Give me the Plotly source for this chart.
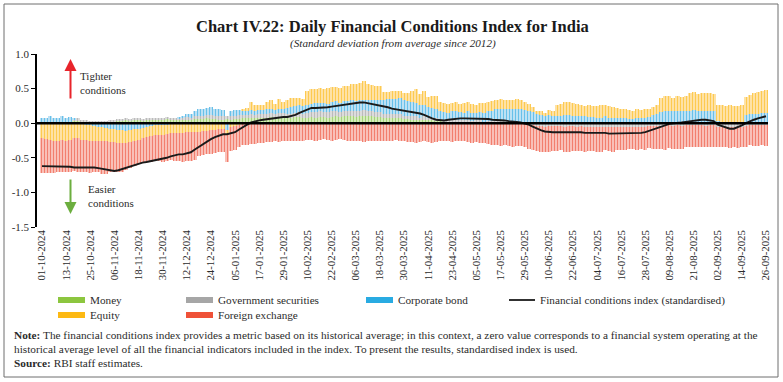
import pandas as pd
import plotly.graph_objects as go

# ---------------- data (2-day steps, 01-10-2024 .. 26-09-2025) ----------------
dates = list(pd.date_range("2024-10-01", periods=181, freq="2D").strftime("%d-%m-%Y"))

tick_labels = ["01-10-2024", "13-10-2024", "25-10-2024", "06-11-2024", "18-11-2024",
               "30-11-2024", "12-12-2024", "24-12-2024", "05-01-2025", "17-01-2025",
               "29-01-2025", "10-02-2025", "22-02-2025", "06-03-2025", "18-03-2025",
               "30-03-2025", "11-04-2025", "23-04-2025", "05-05-2025", "17-05-2025",
               "29-05-2025", "10-06-2025", "22-06-2025", "04-07-2025", "16-07-2025",
               "28-07-2025", "09-08-2025", "21-08-2025", "02-09-2025", "14-09-2025",
               "26-09-2025"]

money = [
    0.01, 0.00, 0.01, 0.00, 0.01, 0.01, 0.00, 0.01,
    0.03, 0.03, 0.02,
    0.02, 0.01, 0.02, 0.02, 0.01, 0.02,
    0.03, 0.03, 0.04, 0.04, 0.05, 0.04, 0.05, 0.05, 0.04,
    0.05, 0.05, 0.06, 0.05, 0.05, 0.06, 0.05, 0.04,
    0.04, 0.04, 0.05, 0.05, 0.06,
    0.06, 0.06, 0.07, 0.06, 0.06, 0.05,
    0.05, 0.06, 0.05, 0.06, 0.06,
    0.07, 0.07, 0.08, 0.07, 0.08,
    0.08, 0.08, 0.09, 0.08, 0.08, 0.09,
    0.08, 0.08, 0.09, 0.09, 0.08,
    0.08, 0.09, 0.08, 0.09, 0.09, 0.08, 0.09, 0.10, 0.09, 0.10,
    0.10, 0.10, 0.09, 0.10, 0.11, 0.10, 0.10, 0.09, 0.09,
    0.08, 0.08, 0.07, 0.08, 0.07, 0.06, 0.06,
    0.05, 0.05, 0.04, 0.05, 0.04, 0.04, 0.03,
    0.03, 0.02, 0.02, 0.03, 0.02, 0.02, 0.02, 0.03, 0.02, 0.02, 0.02, 0.01, 0.02, 0.02,
    0.02, 0.02, 0.02, 0.01, 0.02, 0.02, 0.01, 0.01, 0.01, 0.01,
    0.01, 0.01, 0.00, 0.01, 0.01,
    0.01, 0.01, 0.01, 0.02, 0.01, 0.01, 0.01, 0.01,
    0.01, 0.01, 0.01, 0.01, 0.02, 0.01, 0.01, 0.01, 0.01,
    0.01, 0.01, 0.01, 0.01, 0.01, 0.01, 0.01, 0.02, 0.02,
    0.02, 0.02, 0.02, 0.02, 0.02, 0.02, 0.02,
    0.02, 0.02, 0.02, 0.02, 0.02, 0.02, 0.02,
    0.01, 0.01, 0.01, 0.01, 0.01, 0.01, 0.01,
    0.02, 0.02, 0.02, 0.02, 0.02, 0.02,
]

gsec = [
    0.00, 0.00, 0.01, 0.00, 0.00, 0.01, 0.00, 0.00,
    0.03, 0.04, 0.03,
    0.02, 0.02, 0.01, 0.01, 0.02, 0.01,
    0.01, 0.01, 0.02, 0.01, 0.02, 0.02, 0.02, 0.03, 0.02,
    0.03, 0.03, 0.02, 0.03, 0.03, 0.03, 0.02, 0.03,
    0.03, 0.03, 0.04, 0.03, 0.04,
    0.05, 0.05, 0.05, 0.06, 0.05, 0.05,
    0.05, 0.05, 0.05, 0.05, 0.06,
    0.05, 0.05, 0.06, 0.05, 0.06,
    0.06, 0.06, 0.06, 0.06, 0.07, 0.06,
    0.06, 0.06, 0.06, 0.07, 0.06,
    0.07, 0.07, 0.08, 0.08, 0.07, 0.08, 0.08, 0.08, 0.07, 0.08,
    0.08, 0.08, 0.08, 0.07, 0.08, 0.08, 0.07, 0.07, 0.07,
    0.06, 0.06, 0.06, 0.05, 0.06, 0.05, 0.05,
    0.05, 0.05, 0.04, 0.05, 0.04, 0.04, 0.04,
    0.03, 0.02, 0.02, 0.02, 0.03, 0.02, 0.02, 0.02, 0.01, 0.02, 0.02, 0.01, 0.01, 0.01,
    0.01, 0.01, 0.01, 0.00, 0.01, 0.00, 0.00, -0.01, -0.02, -0.03,
    -0.04, -0.04, -0.05, -0.04, -0.04,
    -0.04, -0.04, -0.05, -0.04, -0.04, -0.05, -0.04, -0.05,
    -0.05, -0.05, -0.05, -0.06, -0.05, -0.05, -0.06, -0.05, -0.05,
    -0.05, -0.05, -0.05, -0.06, -0.05, -0.05, -0.04, -0.04, -0.04,
    -0.04, -0.04, -0.03, -0.04, -0.03, -0.04, -0.03,
    -0.03, -0.03, -0.03, -0.03, -0.04, -0.03, -0.03,
    -0.05, -0.05, -0.06, -0.06, -0.05, -0.06, -0.05,
    -0.04, -0.03, -0.03, -0.03, -0.03, -0.03,
]

corporate_bond = [
    0.07, 0.07, 0.08, 0.07, 0.07, 0.08, 0.07, 0.08,
    0.02, 0.00, -0.01,
    -0.02, -0.03, -0.04, -0.05, -0.06, -0.07,
    -0.08, -0.09, -0.10, -0.10, -0.11, -0.10, -0.09, -0.08, -0.07,
    -0.05, -0.04, -0.03, -0.03, -0.02, -0.02, -0.01, 0.00,
    0.02, 0.03, 0.04, 0.06, 0.08,
    0.09, 0.10, 0.10, 0.11, 0.10, 0.10,
    0.09, -0.10, 0.08, 0.08, 0.07,
    0.06, 0.05, 0.05, 0.06, 0.05,
    0.05, 0.06, 0.06, 0.05, 0.06, 0.06,
    0.08, 0.09, 0.10, 0.10, 0.11,
    0.12, 0.12, 0.13, 0.12, 0.13, 0.12, 0.13, 0.14, 0.13, 0.14,
    0.14, 0.15, 0.15, 0.16, 0.15, 0.15, 0.16, 0.17, 0.18,
    0.20, 0.21, 0.22, 0.22, 0.23, 0.22, 0.21,
    0.20, 0.19, 0.18, 0.16, 0.15, 0.14, 0.13,
    0.12, 0.12, 0.11, 0.12, 0.12, 0.12, 0.11, 0.12, 0.12, 0.11, 0.12, 0.13, 0.14, 0.15,
    0.17, 0.18, 0.18, 0.19, 0.18, 0.18, 0.19, 0.18, 0.17, 0.15,
    0.12, 0.11, 0.10, 0.11, 0.10,
    0.10, 0.10, 0.11, 0.10, 0.10, 0.10, 0.09, 0.09,
    0.08, 0.08, 0.07, 0.07, 0.08, 0.07, 0.07, 0.06, 0.06,
    0.06, 0.05, 0.05, 0.06, 0.06, 0.07, 0.08, 0.10, 0.12,
    0.14, 0.15, 0.16, 0.16, 0.15, 0.16, 0.16,
    0.16, 0.17, 0.16, 0.16, 0.15, 0.16, 0.16,
    0.02, 0.01, 0.00, 0.00, 0.00, 0.01, 0.00,
    0.10, 0.11, 0.12, 0.12, 0.13, 0.13,
]

equity = [
    -0.22, -0.23, -0.24, -0.25, -0.25, -0.24, -0.25, -0.24,
    -0.22, -0.22, -0.23,
    -0.22, -0.22, -0.21, -0.20, -0.20, -0.19,
    -0.19, -0.18, -0.18, -0.18, -0.17, -0.17, -0.16, -0.16, -0.15,
    -0.15, -0.15, -0.14, -0.14, -0.15, -0.14, -0.13, -0.14,
    -0.14, -0.14, -0.13, -0.13, -0.13,
    -0.12, -0.11, -0.11, -0.10, -0.10, -0.09,
    -0.08, -0.06, -0.05, -0.04, -0.02,
    0.03, 0.05, 0.12, 0.08, 0.07,
    0.08, 0.10, 0.12, 0.09, 0.14, 0.10,
    0.12, 0.13, 0.11, 0.10, 0.10,
    0.20, 0.22, 0.21, 0.22, 0.20, 0.23, 0.22, 0.21, 0.22, 0.22,
    0.22, 0.23, 0.24, 0.25, 0.27, 0.24, 0.22, 0.21, 0.20,
    0.11, 0.10, 0.12, 0.11, 0.10, 0.11, 0.12,
    0.17, 0.20, 0.16, 0.21, 0.15, 0.18, 0.19,
    0.12, 0.13, 0.13, 0.12, 0.13, 0.12, 0.14, 0.13, 0.13, 0.12, 0.13, 0.14, 0.13, 0.14,
    0.13, 0.14, 0.12, 0.14, 0.13, 0.15, 0.13, 0.12, 0.10, 0.08,
    0.05, 0.06, 0.05, 0.07, 0.06,
    0.16, 0.17, 0.18, 0.19, 0.18, 0.17, 0.16, 0.15,
    0.17, 0.16, 0.17, 0.18, 0.16, 0.17, 0.16, 0.15, 0.14,
    0.14, 0.13, 0.12, 0.13, 0.12, 0.13, 0.12, 0.12, 0.13,
    0.20, 0.22, 0.21, 0.19, 0.22, 0.20, 0.21,
    0.25, 0.26, 0.24, 0.25, 0.26, 0.25, 0.24,
    0.24, 0.25, 0.24, 0.25, 0.24, 0.23, 0.25,
    0.26, 0.28, 0.30, 0.31, 0.32, 0.33,
]

foreign_exchange = [
    -0.50, -0.49, -0.48, -0.47, -0.46, -0.47, -0.46, -0.46,
    -0.47, -0.48, -0.47,
    -0.46, -0.47, -0.46, -0.46, -0.47, -0.47,
    -0.44, -0.44, -0.43, -0.42, -0.40, -0.38, -0.37, -0.35, -0.34,
    -0.36, -0.37, -0.38, -0.38, -0.39, -0.38, -0.39, -0.40,
    -0.41, -0.42, -0.42, -0.41, -0.40,
    -0.36, -0.35, -0.34, -0.34, -0.33, -0.33,
    -0.34, -0.40, -0.35, -0.34, -0.33,
    -0.32, -0.31, -0.30, -0.30, -0.29,
    -0.28, -0.27, -0.27, -0.26, -0.27, -0.26,
    -0.26, -0.25, -0.25, -0.26, -0.25,
    -0.24, -0.24, -0.25, -0.24, -0.23, -0.24, -0.25, -0.24, -0.23, -0.24,
    -0.25, -0.26, -0.25, -0.26, -0.27, -0.26, -0.25, -0.26, -0.25,
    -0.25, -0.26, -0.25, -0.24, -0.25, -0.26, -0.27,
    -0.27, -0.28, -0.27, -0.26, -0.27, -0.28, -0.27,
    -0.26, -0.25, -0.26, -0.27, -0.26, -0.25, -0.26, -0.27, -0.28, -0.27, -0.28, -0.29, -0.30, -0.31,
    -0.32, -0.33, -0.32, -0.33, -0.34, -0.33, -0.33, -0.34, -0.35, -0.36,
    -0.36, -0.37, -0.36, -0.37, -0.36,
    -0.36, -0.35, -0.36, -0.37, -0.36, -0.35, -0.36, -0.36,
    -0.35, -0.35, -0.36, -0.35, -0.34, -0.35, -0.35, -0.34, -0.34,
    -0.33, -0.32, -0.32, -0.33, -0.32, -0.33, -0.32, -0.33, -0.33,
    -0.33, -0.34, -0.33, -0.33, -0.34, -0.33, -0.32,
    -0.32, -0.32, -0.31, -0.32, -0.31, -0.32, -0.32,
    -0.30, -0.30, -0.29, -0.30, -0.29, -0.30, -0.30,
    -0.30, -0.29, -0.30, -0.30, -0.29, -0.30,
]

fci = [
    -0.62, -0.62, -0.62, -0.62, -0.62, -0.63, -0.63, -0.63,
    -0.64, -0.64, -0.63,
    -0.63, -0.63, -0.64, -0.65, -0.66, -0.67,
    -0.68, -0.69, -0.68, -0.66, -0.64, -0.62, -0.60, -0.58, -0.57,
    -0.56, -0.55, -0.54, -0.53, -0.52, -0.50, -0.48, -0.46,
    -0.45, -0.45, -0.44, -0.42, -0.38,
    -0.34, -0.30, -0.26, -0.23, -0.20, -0.18,
    -0.16, -0.16, -0.15, -0.13, -0.09,
    -0.05, -0.02, 0.01, 0.03, 0.04,
    0.05, 0.06, 0.07, 0.07, 0.08, 0.09,
    0.09, 0.10, 0.12, 0.15, 0.17,
    0.20, 0.22, 0.22, 0.22, 0.23, 0.23, 0.24, 0.25, 0.26, 0.27,
    0.28, 0.29, 0.29, 0.30, 0.30, 0.29, 0.28, 0.27, 0.26,
    0.25, 0.23, 0.21, 0.20, 0.19, 0.18, 0.18,
    0.17, 0.16, 0.14, 0.12, 0.09, 0.07, 0.05,
    0.04, 0.04, 0.05, 0.06, 0.06, 0.07, 0.07, 0.07, 0.06, 0.06, 0.07, 0.07, 0.06, 0.05,
    0.05, 0.04, 0.04, 0.03, 0.03, 0.02, 0.01, 0.00, -0.02, -0.05,
    -0.08, -0.10, -0.12, -0.13, -0.13,
    -0.13, -0.13, -0.12, -0.12, -0.13, -0.13, -0.13, -0.14,
    -0.14, -0.14, -0.13, -0.13, -0.14, -0.15, -0.15, -0.14, -0.14,
    -0.15, -0.15, -0.15, -0.14, -0.14, -0.13, -0.11, -0.09, -0.07,
    -0.04, -0.02, -0.01, 0.00, 0.00, 0.01, 0.02,
    0.03, 0.04, 0.05, 0.05, 0.05, 0.04, 0.03,
    -0.02, -0.04, -0.06, -0.08, -0.08, -0.06, -0.03,
    0.00, 0.03, 0.05, 0.07, 0.09, 0.10,
]

for name, arr in [("money", money), ("gsec", gsec), ("corp", corporate_bond),
                  ("equity", equity), ("fx", foreign_exchange), ("fci", fci)]:
    assert len(arr) == len(dates), (name, len(arr))

series_names = ["Money", "Government securities", "Corporate bond", "Equity", "Foreign exchange"]
series_values = [money, gsec, corporate_bond, equity, foreign_exchange]
dark_colors = ["#93cc63", "#b0b0b0", "#4cb6e6", "#fcc233", "#f06a55"]
light_colors = ["#d6ebbd", "#dcdcdc", "#bde1f4", "#fee2a6", "#f9c0b8"]
swatch_colors = ["#8cc63f", "#a6a6a6", "#29abe2", "#fdb913", "#ef5138"]

# ---------------- geometry ----------------
W, H = 783, 382
ML, MR, MT, MB = 37, 15, 54, 155
PW, PH = W - ML - MR, H - MT - MB


def px(x):
    return (x - ML) / PW


def py(y):
    return 1 - (y - MT) / PH


SERIF = "Liberation Serif"
TXT = "#2b2b2b"

fig = go.Figure()
for name, vals, dc, lc in zip(series_names, series_values, dark_colors, light_colors):
    fig.add_trace(go.Bar(
        x=dates, y=vals, name=name,
        marker=dict(color=lc, line=dict(width=0),
                    pattern=dict(shape="|", fgcolor=dc, bgcolor=lc, size=3,
                                 solidity=0.25, fillmode="replace")),
        showlegend=False,
    ))

fig.add_trace(go.Scatter(x=dates, y=fci, mode="lines", name="Financial conditions index (standardised)",
                         line=dict(color="#1a1a1a", width=1.9), showlegend=False))

shapes = []
annotations = []

# zero line
shapes.append(dict(type="line", xref="paper", yref="y", x0=0, x1=px(768), y0=0, y1=0,
                   line=dict(color="black", width=2.5), layer="above"))
# outer frame
shapes.append(dict(type="rect", xref="paper", yref="paper", x0=px(4), x1=px(778), y0=py(377), y1=py(4),
                   line=dict(color="#6f6f6f", width=1), layer="below"))

# title & subtitle
annotations.append(dict(text="<b>Chart IV.22: Daily Financial Conditions Index for India</b>",
                        xref="paper", yref="paper", x=px(392), y=py(27), showarrow=False,
                        font=dict(family=SERIF, size=16.5, color="#1a1a1a"), xanchor="center", yanchor="middle"))
annotations.append(dict(text="<i>(Standard deviation from average since 2012)</i>",
                        xref="paper", yref="paper", x=px(393), y=py(43), showarrow=False,
                        font=dict(family=SERIF, size=11.2, color=TXT), xanchor="center", yanchor="middle"))

# arrows
annotations.append(dict(text="", xref="paper", yref="paper", x=px(70.5), y=py(59), ax=0, ay=41,
                        showarrow=True, arrowhead=2, arrowsize=1.2, arrowwidth=2, arrowcolor="#e8242b"))
annotations.append(dict(text="", xref="paper", yref="paper", x=px(70.5), y=py(214), ax=0, ay=-36,
                        showarrow=True, arrowhead=2, arrowsize=1.2, arrowwidth=2, arrowcolor="#6cae3f"))
annotations.append(dict(text="Tighter<br>conditions", xref="paper", yref="paper", x=px(78), y=py(83),
                        showarrow=False, align="left", xanchor="left", yanchor="middle",
                        font=dict(family=SERIF, size=11, color=TXT)))
annotations.append(dict(text="Easier<br>conditions", xref="paper", yref="paper", x=px(86), y=py(196),
                        showarrow=False, align="left", xanchor="left", yanchor="middle",
                        font=dict(family=SERIF, size=11, color=TXT)))

# legend (drawn manually)
legend_items = [
    (0, 58, 300), (1, 186, 300), (2, 366, 300), (3, 58, 315), (4, 186, 315)
]
for idx, x0, yc in legend_items:
    shapes.append(dict(type="rect", xref="paper", yref="paper", x0=px(x0), x1=px(x0 + 27),
                       y0=py(yc + 3), y1=py(yc - 3), fillcolor=swatch_colors[idx], line=dict(width=0)))
    annotations.append(dict(text=series_names[idx], xref="paper", yref="paper", x=px(x0 + 30), y=py(yc),
                            showarrow=False, xanchor="left", yanchor="middle",
                            font=dict(family=SERIF, size=11.2, color=TXT)))
shapes.append(dict(type="line", xref="paper", yref="paper", x0=px(509), x1=px(535), y0=py(300), y1=py(300),
                   line=dict(color="#1a1a1a", width=1.8)))
annotations.append(dict(text="Financial conditions index (standardised)", xref="paper", yref="paper",
                        x=px(538), y=py(300), showarrow=False, xanchor="left", yanchor="middle",
                        font=dict(family=SERIF, size=11.2, color=TXT)))

# notes
note_lines = [
    (335, "<b>Note:</b> The financial conditions index provides a metric based on its historical average; in this context, a zero value corresponds to a financial system operating at the"),
    (349, "historical average level of all the financial indicators included in the index. To present the results, standardised index is used."),
    (363, "<b>Source:</b> RBI staff estimates."),
]
for yc, t in note_lines:
    annotations.append(dict(text=t, xref="paper", yref="paper", x=px(12), y=py(yc), showarrow=False,
                            xanchor="left", yanchor="middle", font=dict(family=SERIF, size=11.3, color=TXT)))

fig.update_layout(
    width=W, height=H,
    margin=dict(l=ML, r=MR, t=MT, b=MB, pad=0),
    paper_bgcolor="white", plot_bgcolor="white",
    barmode="relative", bargap=0,
    showlegend=False,
    shapes=shapes, annotations=annotations,
    xaxis=dict(type="category", categoryorder="array", categoryarray=dates,
               range=[-1.24, 180.5], tickmode="array", tickvals=tick_labels, ticktext=tick_labels,
               tickangle=-90, tickfont=dict(family=SERIF, size=10.8, color=TXT),
               showgrid=False, showline=False, zeroline=False, ticks="", ticklen=0),
    yaxis=dict(range=[-1.5, 1.0], tickvals=[-1.5, -1.0, -0.5, 0.0, 0.5, 1.0],
               ticktext=["-1.5", "-1.0", "-0.5", "0.0", "0.5", "1.0"],
               tickfont=dict(family=SERIF, size=11, color=TXT),
               showgrid=False, zeroline=False, showline=True, linecolor="black", linewidth=1.5,
               ticks="outside", ticklen=4, tickcolor="black", tickwidth=1),
)

fig.write_html("out.html", config={"displayModeBar": False},
               post_script="document.body.style.margin='0';document.body.style.padding='0';")
